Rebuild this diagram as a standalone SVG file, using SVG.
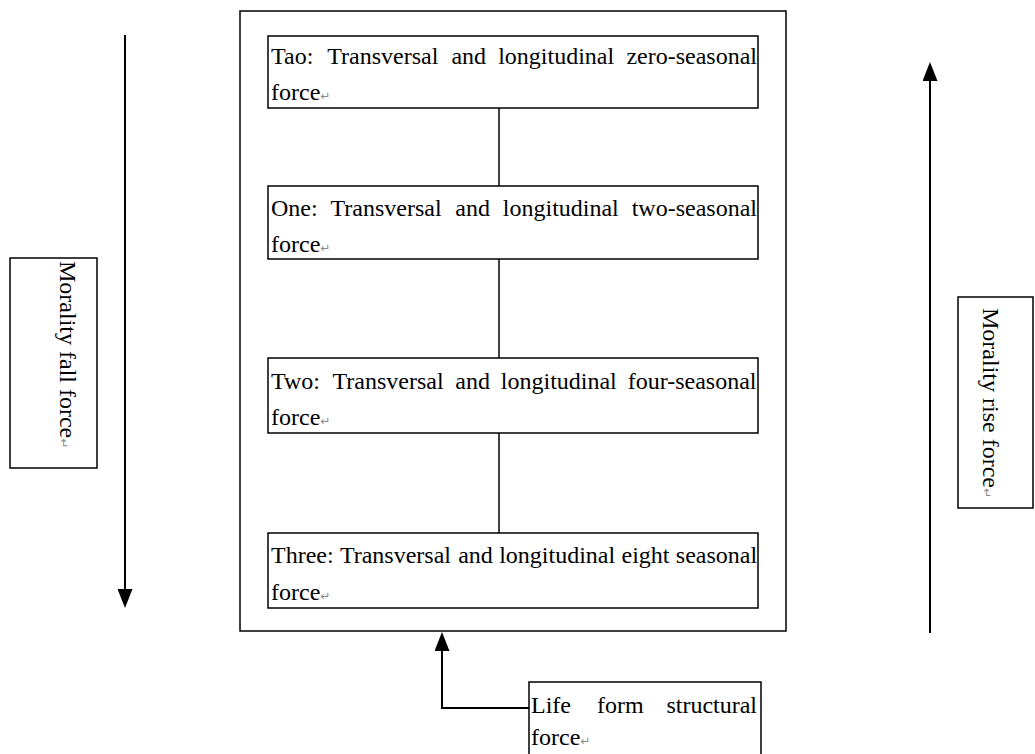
<svg xmlns="http://www.w3.org/2000/svg" width="1035" height="754" viewBox="0 0 1035 754">
<style>
.box{fill:#fff;stroke:#000;stroke-width:1.5}
.t{font-family:"Liberation Serif","Times New Roman",serif;font-size:24px;fill:#000}
.pm{font-family:"DejaVu Sans",sans-serif;font-size:12px;fill:#8a8a8a}
.ln{fill:none;stroke:#000;stroke-width:1.5}
.ar{fill:none;stroke:#000;stroke-width:2}
</style>
<defs>
<marker id="ah" viewBox="0 0 19 15" markerWidth="19" markerHeight="15" refX="0" refY="7.5" orient="auto" markerUnits="userSpaceOnUse">
<path d="M0,0 L19,7.5 L0,15 z" fill="#000"/>
</marker>
</defs>
<rect width="1035" height="754" fill="#fff"/>
<g id="outer"><rect class="box" x="240" y="11" width="546" height="620"/></g>
<g id="connectors">
<line class="ln" x1="499" y1="108" x2="499" y2="186"/>
<line class="ln" x1="499" y1="259" x2="499" y2="358"/>
<line class="ln" x1="499" y1="433" x2="499" y2="533"/>
<line class="ar" x1="125" y1="35" x2="125" y2="589" marker-end="url(#ah)"/>
<line class="ar" x1="930" y1="633" x2="930" y2="81" stroke="#444" marker-end="url(#ah)"/>
<path class="ar" d="M529,708 H442 V651" marker-end="url(#ah)"/>
</g>
<g id="tao">
<rect class="box" x="268" y="36" width="490" height="72"/>
<text class="t" y="64"><tspan x="271">Tao:</tspan><tspan x="327.2">Transversal</tspan><tspan x="451.4">and</tspan><tspan x="498.2">longitudinal</tspan><tspan x="626.4">zero-seasonal</tspan></text>
<text class="t" x="271" y="100">force<tspan class="pm">↵</tspan></text>
</g>
<g id="one">
<rect class="box" x="268" y="186" width="490" height="73"/>
<text class="t" y="216"><tspan x="271">One:</tspan><tspan x="330.5">Transversal</tspan><tspan x="455.3">and</tspan><tspan x="502.8">longitudinal</tspan><tspan x="631.7">two-seasonal</tspan></text>
<text class="t" x="271" y="252">force<tspan class="pm">↵</tspan></text>
</g>
<g id="two">
<rect class="box" x="268" y="358" width="490" height="75"/>
<text class="t" y="389"><tspan x="271">Two:</tspan><tspan x="332.5">Transversal</tspan><tspan x="455.3">and</tspan><tspan x="500.8">longitudinal</tspan><tspan x="627.7">four-seasonal</tspan></text>
<text class="t" x="271" y="425">force<tspan class="pm">↵</tspan></text>
</g>
<g id="three">
<rect class="box" x="268" y="533" width="490" height="75"/>
<text class="t" y="563"><tspan x="271">Three:</tspan><tspan x="339.9">Transversal</tspan><tspan x="458.2">and</tspan><tspan x="499.2">longitudinal</tspan><tspan x="621.5">eight</tspan><tspan x="675.8">seasonal</tspan></text>
<text class="t" x="271" y="600">force<tspan class="pm">↵</tspan></text>
</g>
<g id="fall">
<rect class="box" x="10" y="258" width="87" height="210"/>
<text class="t" transform="translate(60,261) rotate(90)" x="0" y="0">Morality fall force<tspan class="pm">↵</tspan></text>
</g>
<g id="rise">
<rect class="box" x="958" y="297" width="75" height="211"/>
<text class="t" transform="translate(983,308) rotate(90)" x="0" y="0">Morality rise force<tspan class="pm">↵</tspan></text>
</g>
<g id="life">
<rect class="box" x="529" y="682" width="232" height="80"/>
<text class="t" y="713"><tspan x="531">Life</tspan><tspan x="597">form</tspan><tspan x="666.4">structural</tspan></text>
<text class="t" x="531" y="745">force<tspan class="pm">↵</tspan></text>
</g>
</svg>
